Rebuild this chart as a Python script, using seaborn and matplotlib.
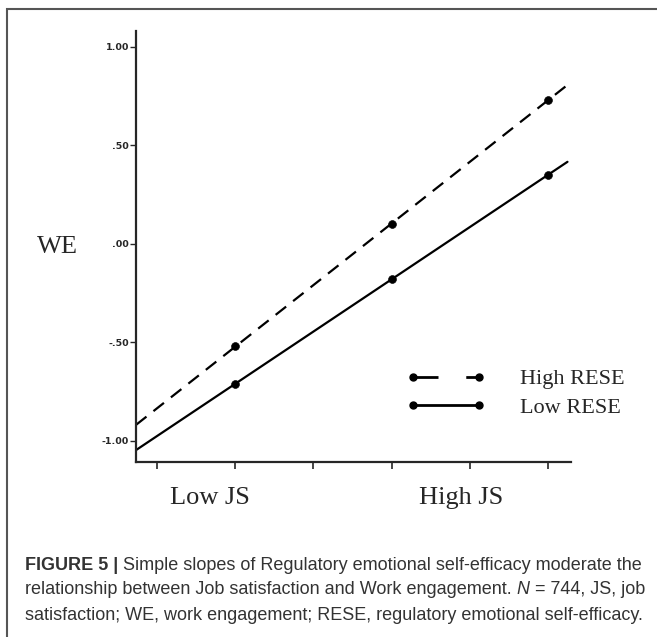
import numpy as np
import pandas as pd
import matplotlib
matplotlib.use("Agg")
import matplotlib.pyplot as plt
import seaborn as sns
from matplotlib.lines import Line2D
from matplotlib.patches import Rectangle

# data
js_pos = [2, 4, 6]                      # positions of the three JS levels on the x ticks
high_rese = [-0.52, 0.10, 0.73]
low_rese = [-0.71, -0.18, 0.35]
line_span = [0.73, 6.25]                # x range the fitted slopes are drawn over
x_ticks = [1, 2, 3, 4, 5, 6]
y_ticks = [1.0, 0.5, 0.0, -0.5, -1.0]
y_labels = ["1.00", ".50", ".00", "-.50", "-1.00"]

sns.set_style("ticks")
plt.rcParams['font.family'] = ['Liberation Serif', 'DejaVu Serif']

pts = pd.DataFrame({
    "JS": js_pos * 2,
    "WE": high_rese + low_rese,
    "group": ["High RESE"] * 3 + ["Low RESE"] * 3,
})

# straight simple-slope lines fitted through the points
rows = []
for name, vals in [("High RESE", high_rese), ("Low RESE", low_rese)]:
    b, a = np.polyfit(js_pos, vals, 1)
    for xx in line_span:
        rows.append({"JS": xx, "WE": a + b * xx, "group": name})
lines = pd.DataFrame(rows)

fig = plt.figure(figsize=(6.57, 6.37), dpi=100)
ax = fig.add_axes([0.207, 0.2747, 0.6615, 0.6766])

sns.lineplot(data=lines, x="JS", y="WE", style="group",
             dashes={"High RESE": (6, 4), "Low RESE": ""},
             color="black", linewidth=1.6, legend=False, ax=ax)
sns.scatterplot(data=pts, x="JS", y="WE", color="black", s=32,
                edgecolor="black", legend=False, ax=ax, zorder=3)

ax.set_xlim(0.73, 6.29)
ax.set_ylim(-1.107, 1.08)
ax.set_xticks(x_ticks)
ax.set_xticklabels([])
ax.set_yticks(y_ticks)
ax.set_yticklabels(y_labels, family="DejaVu Sans", fontweight="bold", fontsize=6.8)
ax.tick_params(axis="x", length=5, width=1.2, direction="out")
ax.tick_params(axis="y", length=4.5, width=1.0, direction="out", pad=0.5)
ax.set_xlabel("")
ax.set_ylabel("")
sns.despine(ax=ax)
for sp in ["left", "bottom"]:
    ax.spines[sp].set_linewidth(1.6)

ax.text(-0.18, 0.50, "WE", transform=ax.transAxes, fontsize=19,
        ha="center", va="center")
ax.text(1.67, -0.083, "Low JS", transform=ax.get_xaxis_transform(),
        fontsize=19, ha="center", va="center")
ax.text(4.89, -0.083, "High JS", transform=ax.get_xaxis_transform(),
        fontsize=19, ha="center", va="center")

handles = [
    Line2D([0], [0], color="black", lw=2.0, dashes=(9, 10), marker="o", markersize=5),
    Line2D([0], [0], color="black", lw=2.0, marker="o", markersize=5),
]
fig.legend(handles, ["High RESE", "Low RESE"], loc="upper left",
           bbox_to_anchor=(0.618, 0.421), frameon=False, fontsize=16,
           numpoints=2, handlelength=3.6, handletextpad=1.55,
           labelspacing=0.36, borderpad=0, borderaxespad=0)

# caption
cap_kw = dict(fontsize=13, color="#333333", family="Liberation Sans")
t1 = fig.text(25 / 657, 1 - 565 / 637, "FIGURE 5 |", fontweight="bold",
              va="center", **cap_kw)
ax.annotate(" Simple slopes of Regulatory emotional self-efficacy moderate the",
            xy=(1, 0.5), xycoords=t1, va="center", annotation_clip=False, **cap_kw)
t2 = fig.text(25 / 657, 1 - 590 / 637,
              "relationship between Job satisfaction and Work engagement. ",
              va="center", **cap_kw)
t3 = ax.annotate("N", xy=(1, 0.5), xycoords=t2, va="center", style="italic",
                 annotation_clip=False, **cap_kw)
ax.annotate(" = 744, JS, job", xy=(1, 0.5), xycoords=t3, va="center",
            annotation_clip=False, **cap_kw)
fig.text(25 / 657, 1 - 615 / 637,
         "satisfaction; WE, work engagement; RESE, regulatory emotional self-efficacy.",
         va="center", **cap_kw)

# outer frame of the figure panel
fig.patches.append(Rectangle((7 / 657, -0.02), 1.0, 1 - 9 / 637 + 0.02,
                             transform=fig.transFigure, fill=False,
                             edgecolor="#555555", linewidth=1.5))

fig.savefig("out.png", dpi=100)
